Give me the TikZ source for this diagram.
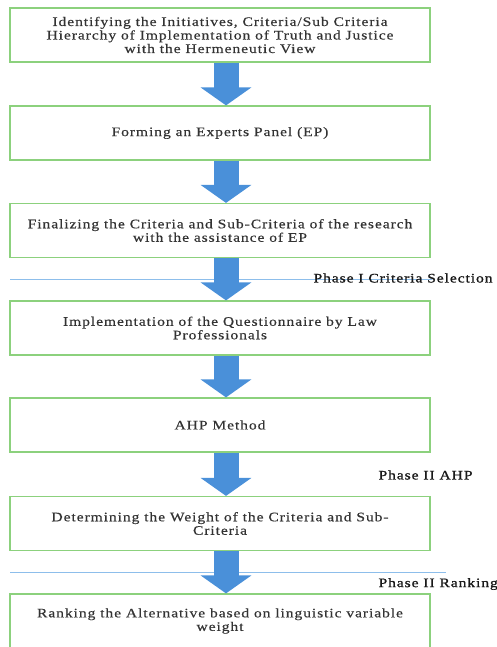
\documentclass[tikz,border=0pt]{standalone}
\usepackage{fontspec}
\setmainfont{Liberation Serif}[FakeStretch=1.2,LetterSpace=7,FakeBold=0.4]
\usetikzlibrary{arrows.meta}
\definecolor{stepgreen}{HTML}{8CD17D}
\definecolor{flowblue}{HTML}{4A90D9}
\definecolor{phaseline}{HTML}{8DBEEB}
\begin{document}
\begin{tikzpicture}[x=1pt,y=-1pt,
  every node/.style={font=\fontsize{13}{13.5}\selectfont},
  stepbox/.style={draw=stepgreen,line width=1.2pt,minimum width=420pt,minimum height=54pt,align=center,inner sep=0pt,text=black!80},
  flow/.style={draw=flowblue,line width=25pt,-{Triangle[width=50pt,length=18pt]}},
  phase/.style={anchor=west,text=black!90,font=\fontsize{13}{13.5}\selectfont\addfontfeature{FakeBold=1.2}},
  divider/.style={draw=phaseline,line width=1pt}]
\useasboundingbox (0,0) rectangle (497,647);
\clip (0,0) rectangle (497,647);
% steps
\node[stepbox] (s1) at (220,35) {Identifying the Initiatives, Criteria/Sub Criteria\\Hierarchy of Implementation of Truth and Justice\\with the Hermeneutic View};
\node[stepbox] (s2) at (220,133) {Forming an Experts Panel (EP)};
\node[stepbox] (s3) at (220,230.5) {Finalizing the Criteria and Sub-Criteria of the research\\with the assistance of EP};
\node[stepbox] (s4) at (220,328) {Implementation of the Questionnaire by Law\\Professionals};
\node[stepbox] (s5) at (220,425) {AHP Method};
\node[stepbox] (s6) at (220,523.5) {Determining the Weight of the Criteria and Sub-\\Criteria};
\node[stepbox] (s7) at (220,621) {Ranking the Alternative based on linguistic variable\\weight};
% phase dividers
\coordinate (d1a) at (10,279);
\coordinate (d1b) at (432,279);
\coordinate (d2a) at (10,572);
\coordinate (d2b) at (446,572);
\draw[divider] (d1a) -- (d1b);
\draw[divider] (d2a) -- (d2b);
\node[phase] (p1) at (310,278) {Phase I Criteria Selection};
\node[phase] (p2) at (375,475) {Phase II AHP};
\node[phase] (p3) at (375,584) {Phase II Ranking};
% arrows
\foreach \a/\b in {s1/s2,s2/s3,s3/s4,s4/s5,s5/s6,s6/s7}
  \draw[flow] ([xshift=6pt]\a.south) -- ([xshift=6pt]\b.north);
\end{tikzpicture}
\end{document}
